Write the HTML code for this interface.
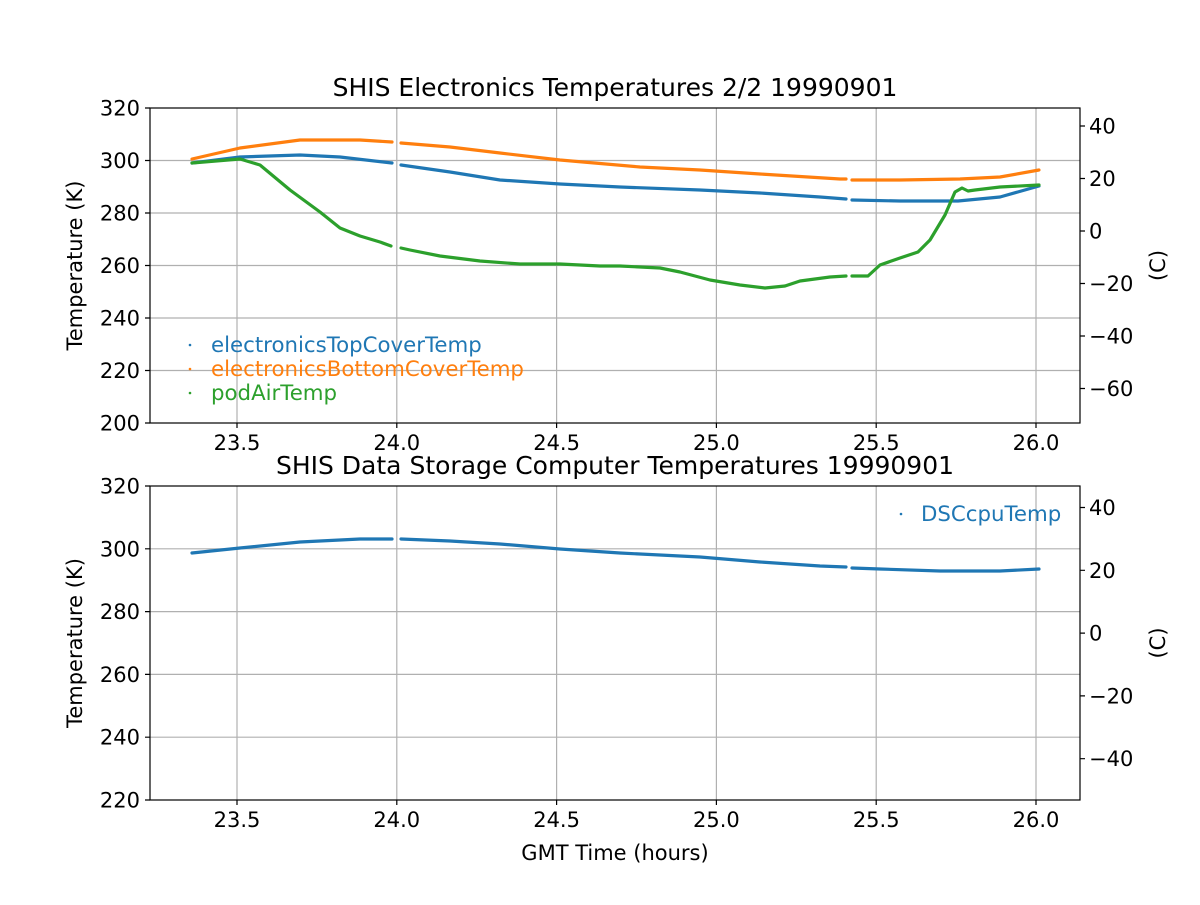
<!DOCTYPE html>
<html><head><meta charset="utf-8"><style>
body{margin:0;background:#fff}
svg text{font-family:"DejaVu Sans","Liberation Sans",sans-serif;fill:#000}
</style></head><body>
<svg width="1200" height="900" viewBox="0 0 1200 900" xmlns="http://www.w3.org/2000/svg">
<rect width="1200" height="900" fill="#fff"/>
<g stroke="#b0b0b0" stroke-width="1.2">
<line x1="237" y1="108" x2="237" y2="423"/><line x1="396.8" y1="108" x2="396.8" y2="423"/><line x1="556.6" y1="108" x2="556.6" y2="423"/><line x1="716.4" y1="108" x2="716.4" y2="423"/><line x1="876.2" y1="108" x2="876.2" y2="423"/><line x1="1036" y1="108" x2="1036" y2="423"/>
<line x1="150" y1="160.5" x2="1080" y2="160.5"/><line x1="150" y1="213" x2="1080" y2="213"/><line x1="150" y1="265.5" x2="1080" y2="265.5"/><line x1="150" y1="318" x2="1080" y2="318"/><line x1="150" y1="370.5" x2="1080" y2="370.5"/>
<line x1="237" y1="486" x2="237" y2="800"/><line x1="396.8" y1="486" x2="396.8" y2="800"/><line x1="556.6" y1="486" x2="556.6" y2="800"/><line x1="716.4" y1="486" x2="716.4" y2="800"/><line x1="876.2" y1="486" x2="876.2" y2="800"/><line x1="1036" y1="486" x2="1036" y2="800"/>
<line x1="150" y1="548.8" x2="1080" y2="548.8"/><line x1="150" y1="611.6" x2="1080" y2="611.6"/><line x1="150" y1="674.4" x2="1080" y2="674.4"/><line x1="150" y1="737.2" x2="1080" y2="737.2"/>
</g>
<g fill="none" stroke-width="3.2" stroke-linejoin="round" stroke-linecap="round">
<polyline stroke="#1f77b4" points="192,163 240,157 300,155 340,157 392,163"/>
<polyline stroke="#1f77b4" points="401,165 450,172 500,180 560,184 620,187 700,190 760,193 820,197 846,199"/>
<polyline stroke="#1f77b4" points="852,200 900,201 958,201 1000,197 1039,186"/>
<polyline stroke="#ff7f0e" points="192,159 240,148 300,140 360,140 392,142"/>
<polyline stroke="#ff7f0e" points="401,143 450,147 500,153 560,160 640,167 700,170 760,174 840,179 846,179"/>
<polyline stroke="#ff7f0e" points="852,180 900,180 960,179 1000,177 1039,170"/>
<polyline stroke="#2ca02c" points="192,163 240,159 260,165 290,190 320,212 340,228 360,236 380,242 391,246"/>
<polyline stroke="#2ca02c" points="401,248 410,250 440,256 480,261 520,264 560,264 600,266 620,266 660,268 680,272 710,280 740,285 765,288 785,286 800,281 830,277 846,276"/>
<polyline stroke="#2ca02c" points="852,276 868,276 880,265 900,258 918,252 930,240 945,215 955,192 962,188 968,191 975,190 1000,187 1039,185"/>
<polyline stroke="#1f77b4" points="192,553 240,548 300,542 360,539 392,539"/>
<polyline stroke="#1f77b4" points="401,539 450,541 500,544 560,549 620,553 700,557 760,562 820,566 846,567"/>
<polyline stroke="#1f77b4" points="852,568 880,569 940,571 1000,571 1039,569"/>
</g>
<rect x="150" y="108" width="930" height="315" fill="none" stroke="#000" stroke-width="1.2"/>
<rect x="150" y="486" width="930" height="314" fill="none" stroke="#000" stroke-width="1.2"/>
<g stroke="#000" stroke-width="1.2">
<path d="M237 423v5M396.8 423v5M556.6 423v5M716.4 423v5M876.2 423v5M1036 423v5M237 800v5M396.8 800v5M556.6 800v5M716.4 800v5M876.2 800v5M1036 800v5"/>
<path d="M150 108h-5M150 160.5h-5M150 213h-5M150 265.5h-5M150 318h-5M150 370.5h-5M150 423h-5M150 486h-5M150 548.8h-5M150 611.6h-5M150 674.4h-5M150 737.2h-5M150 800h-5"/>
<path d="M1080 126h5M1080 178.5h5M1080 231h5M1080 283.5h5M1080 336h5M1080 388.5h5M1080 507.5h5M1080 570.3h5M1080 633.1h5M1080 695.9h5M1080 758.7h5"/>
</g>
<g font-size="21" text-anchor="end">
<text x="140" y="115.5">320</text><text x="140" y="168">300</text><text x="140" y="220.5">280</text><text x="140" y="273">260</text><text x="140" y="325.5">240</text><text x="140" y="378">220</text><text x="140" y="430.5">200</text>
<text x="140" y="493.5">320</text><text x="140" y="556.3">300</text><text x="140" y="619.1">280</text><text x="140" y="681.9">260</text><text x="140" y="744.7">240</text><text x="140" y="807.5">220</text>
</g>
<g font-size="21">
<text x="1089" y="133.5">40</text><text x="1089" y="186">20</text><text x="1089" y="238.5">0</text><text x="1089" y="291">−20</text><text x="1089" y="343.5">−40</text><text x="1089" y="396">−60</text>
<text x="1089" y="515">40</text><text x="1089" y="577.8">20</text><text x="1089" y="640.6">0</text><text x="1089" y="703.4">−20</text><text x="1089" y="766.2">−40</text>
</g>
<g font-size="21" text-anchor="middle">
<text x="237" y="450">23.5</text><text x="396.8" y="450">24.0</text><text x="556.6" y="450">24.5</text><text x="716.4" y="450">25.0</text><text x="876.2" y="450">25.5</text><text x="1036" y="450">26.0</text>
<text x="237" y="827">23.5</text><text x="396.8" y="827">24.0</text><text x="556.6" y="827">24.5</text><text x="716.4" y="827">25.0</text><text x="876.2" y="827">25.5</text><text x="1036" y="827">26.0</text>
<text x="615" y="860">GMT Time (hours)</text>
<text x="615" y="96" font-size="25">SHIS Electronics Temperatures 2/2 19990901</text>
<text x="615" y="474" font-size="25">SHIS Data Storage Computer Temperatures 19990901</text>
<text transform="translate(82,265.5) rotate(-90)">Temperature (K)</text>
<text transform="translate(82,643) rotate(-90)">Temperature (K)</text>
<text transform="translate(1165,265.5) rotate(-90)">(C)</text>
<text transform="translate(1165,643) rotate(-90)">(C)</text>
</g>
<g font-size="21.3">
<circle cx="190" cy="345" r="1.3" fill="#1f77b4"/><text x="211" y="352" style="fill:#1f77b4">electronicsTopCoverTemp</text>
<circle cx="190" cy="369" r="1.3" fill="#ff7f0e"/><text x="211" y="376" style="fill:#ff7f0e">electronicsBottomCoverTemp</text>
<circle cx="190" cy="393" r="1.3" fill="#2ca02c"/><text x="211" y="400" style="fill:#2ca02c">podAirTemp</text>
<circle cx="901" cy="514" r="1.3" fill="#1f77b4"/><text x="921" y="521" style="fill:#1f77b4">DSCcpuTemp</text>
</g>
</svg>
</body></html>
